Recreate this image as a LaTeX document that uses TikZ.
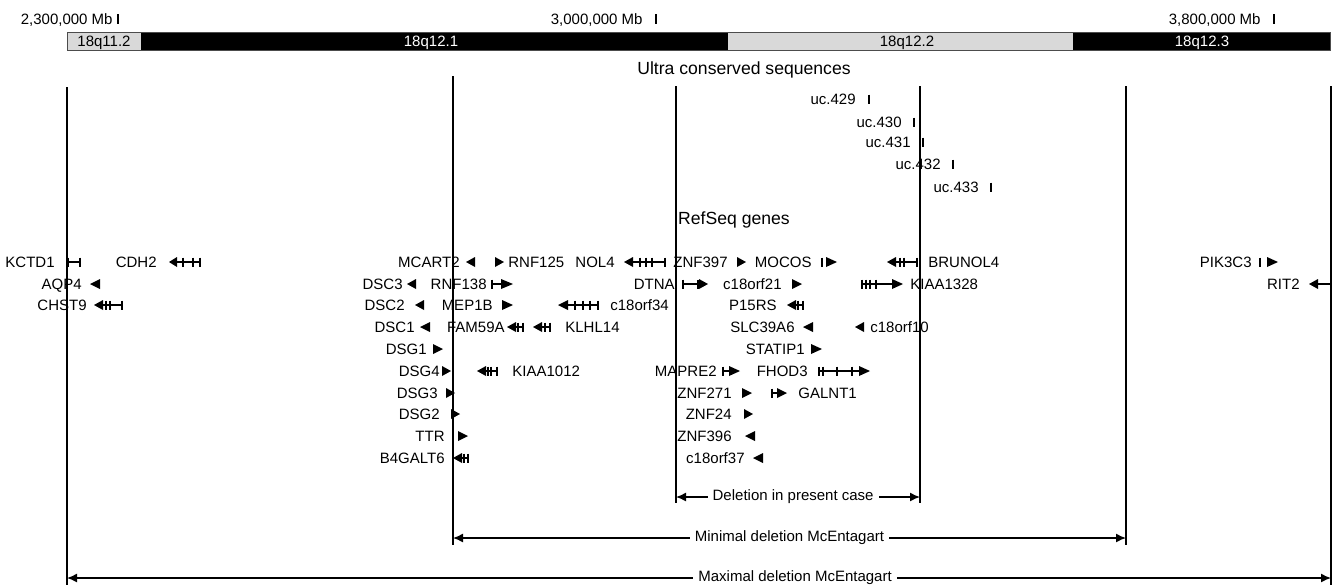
\documentclass[tikz,border=0pt]{standalone}
\usepackage{fontspec}
\setmainfont{Liberation Sans}
\usepackage{tikz}
\usetikzlibrary{arrows.meta}

\definecolor{bandgray}{HTML}{D9D9D9}

\begin{document}
\begin{tikzpicture}[
  x=0.5pt, y=-0.5pt,
  every node/.style={inner sep=0pt},
  gene/.style={font=\fontsize{7.5}{9}\selectfont},
  heading/.style={font=\fontsize{8.8}{10.5}\selectfont},
  guide/.style={line width=0.65pt},
  exon/.style={line width=0.65pt},
  dim/.style={{Latex[length=5pt,width=4.5pt]}-{Latex[length=5pt,width=4.5pt]}, line width=0.7pt},
  dimlabel/.style={gene, fill=white, inner xsep=2.5pt, inner ysep=1pt}
]
  \useasboundingbox (0,0) rectangle (1335,585);

  % Scale
  \node[gene, anchor=base east] (mb2300) at (113,24) {2,300,000 Mb};
  \node[gene, anchor=base east] (mb3000) at (643,24) {3,000,000 Mb};
  \node[gene, anchor=base east] (mb3800) at (1261,24) {3,800,000 Mb};
  \foreach \x in {118, 656, 1274} {
    \draw[guide] (\x,14) -- (\x,24);
  }

  % Chromosome bands
  \foreach \a/\b/\col in {67/141/bandgray, 141/728/black, 728/1073/bandgray, 1073/1330/black} {
    \fill[\col] (\a,32) rectangle (\b,50);
  }
  \draw[black!70, line width=0.5pt] (67,32) rectangle (1330,50);
  \node[gene, anchor=base] (q112) at (104,46) {18q11.2};
  \node[gene, anchor=base, white] (q121) at (431,46) {18q12.1};
  \node[gene, anchor=base] (q122) at (907,46) {18q12.2};
  \node[gene, anchor=base, white] (q123) at (1202,46) {18q12.3};

  % Headings
  \node[heading, anchor=base] (ucs) at (744,74) {Ultra conserved sequences};
  \node[heading, anchor=base] (refseq) at (734,224) {RefSeq genes};

  % Breakpoint lines
  \coordinate (maxLt) at (67,87);    \coordinate (maxLb) at (67,585);
  \coordinate (minLt) at (453,76);   \coordinate (minLb) at (453,545);
  \coordinate (preLt) at (676,86);   \coordinate (preLb) at (676,503);
  \coordinate (preRt) at (920,86);   \coordinate (preRb) at (920,503);
  \coordinate (minRt) at (1126,86);  \coordinate (minRb) at (1126,545);
  \coordinate (maxRt) at (1331,86);  \coordinate (maxRb) at (1331,585);
  \foreach \p in {max, min, pre} {
    \draw[guide] (\p Lt) -- (\p Lb);
    \draw[guide] (\p Rt) -- (\p Rb);
  }

  % Ultra conserved sequences
  \foreach \x/\y/\t/\num in {856/99/869/429, 902/122/914/430, 911/142/923/431, 941/164/953/432, 979/187/991/433} {
    \node[gene, anchor=base east] (uc\num) at (\x,{\y+5}) {uc.\num};
    \draw[guide] (\t,{\y-4.5}) -- (\t,{\y+4.5});
  }

  % Gene names, left of glyph
  \foreach \x/\y/\name in {55/262/KCTD1, 157/262/CDH2, 460/262/MCART2, 615/262/NOL4, 728/262/ZNF397,
      812/262/MOCOS, 1252/262/PIK3C3, 82/284/AQP4, 403/284/DSC3, 487/284/RNF138, 675/284/DTNA,
      782/284/c18orf21, 1300/284/RIT2, 87/305/CHST9, 405/305/DSC2, 493/305/MEP1B, 777/305/P15RS,
      415/327/DSC1, 505/327/FAM59A, 795/327/SLC39A6, 427/349/DSG1, 805/349/STATIP1,
      440/371/DSG4, 717/371/MAPRE2, 808/371/FHOD3, 438/393/DSG3, 732/393/ZNF271,
      440/414/DSG2, 732/414/ZNF24, 445/436/TTR, 732/436/ZNF396, 445/458/B4GALT6, 745/458/c18orf37} {
    \node[gene, anchor=base east] (\name) at (\x,{\y+5}) {\name};
  }

  % Gene names, right of glyph
  \foreach \x/\y/\name in {508/262/RNF125, 928/262/BRUNOL4, 910/284/KIAA1328, 610/305/c18orf34,
      565/327/KLHL14, 870/327/c18orf10, 512/371/KIAA1012, 798/393/GALNT1} {
    \node[gene, anchor=base west] (\name) at (\x,{\y+5}) {\name};
  }

  % Strand direction (base / tip)
  \foreach \b/\t/\y in {177/169/262, 475/466/262, 495/504/262, 633/624/262, 737/746/262, 826/837/262,
      896/887/262, 1267/1278/262, 100/90/284, 416/407/284, 501/513/284, 699/708/284, 792/802/284,
      892/903/284, 1318/1309/284, 103/94/305, 424/415/305, 502/513/305, 568/558/305, 796/787/305,
      430/420/327, 516/507/327, 542/533/327, 813/803/327, 864/855/327, 433/443/349, 811/822/349,
      442/451/371, 486/477/371, 729/740/371, 859/870/371, 446/455/393, 742/752/393, 777/787/393,
      451/460/414, 744/753/414, 458/468/436, 755/745/436, 462/453/458, 763/753/458} {
    \fill (\b,{\y-5}) -- (\t,\y) -- (\b,{\y+5}) -- cycle;
  }

  % Gene bodies
  \foreach \a/\b/\y in {68/80/262, 177/200/262, 633/665/262, 896/917/262, 492/501/284, 683/699/284,
      862/892/284, 1318/1330/284, 103/122/305, 568/598/305, 796/803/305, 516/523/327, 542/550/327,
      486/497/371, 723/729/371, 819/859/371, 772/777/393, 462/468/458} {
    \draw[exon] (\a,\y) -- (\b,\y);
  }

  % Exons
  \foreach \x/\y in {68/262, 80/262, 183/262, 193/262, 200/262, 640/262, 646/262, 652/262, 665/262,
      822/262, 900/262, 904/262, 917/262, 1260/262, 492/284, 683/284, 698/284, 862/284, 866/284,
      870/284, 876/284, 106/305, 110/305, 122/305, 575/305, 583/305, 590/305, 598/305, 798/305,
      803/305, 518/327, 523/327, 545/327, 550/327, 488/371, 491/371, 497/371, 723/371, 819/371,
      823/371, 837/371, 852/371, 772/393, 464/458, 468/458} {
    \draw[exon] (\x,{\y-4.5}) -- (\x,{\y+4.5});
  }

  % Deletions
  \draw[dim] (preLb |- 0,497) -- node[dimlabel, pos=0.48] (pre) {Deletion in present case} (preRb |- 0,497);
  \draw[dim] (minLb |- 0,538) -- node[dimlabel, pos=0.5] (minimal) {Minimal deletion McEntagart} (minRb |- 0,538);
  \draw[dim] (maxLb |- 0,578) -- node[dimlabel, pos=0.576] (maximal) {Maximal deletion McEntagart} (maxRb |- 0,578);

\end{tikzpicture}
\end{document}
